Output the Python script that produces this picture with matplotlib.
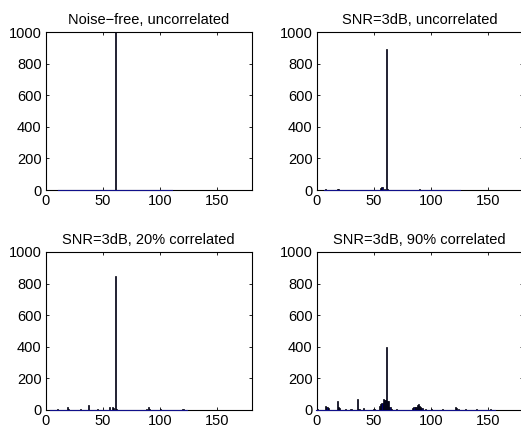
import numpy as np
import matplotlib
matplotlib.use("Agg")
import matplotlib.pyplot as plt

plt.rcParams["font.family"] = ["Liberation Sans", "DejaVu Sans"]
plt.rcParams["font.size"] = 10.5

# Histogram data (bin -> count)
titles = [
    "Noise\u2212free, uncorrelated",
    "SNR=3dB, uncorrelated",
    "SNR=3dB, 20% correlated",
    "SNR=3dB, 90% correlated",
]

# span of bins that carry (possibly empty) bars
spans = [(11, 110), (7, 125), (4, 123), (0, 155)]

bins_a = [61]
counts_a = [1000]

bins_b = [8, 18, 19, 30, 45, 56, 57, 59, 61, 62, 90, 100, 112]
counts_b = [5, 8, 4, 2, 2, 10, 20, 8, 895, 6, 6, 3, 2]

bins_c = [10, 19, 20, 30, 37, 45, 56, 58, 59, 61, 62, 88, 90, 91, 100, 120]
counts_c = [3, 15, 5, 3, 30, 4, 16, 15, 10, 845, 8, 6, 20, 6, 3, 3]

bins_d = [0, 1, 8, 9, 10, 18, 19, 20, 25, 30, 36, 37, 41, 50, 55, 56, 57, 58,
          59, 60, 61, 62, 63, 64, 65, 70, 84, 85, 86, 87, 88, 89, 90, 91, 92,
          95, 100, 110, 121, 122, 124, 130, 140, 152]
counts_d = [15, 8, 22, 20, 10, 58, 15, 10, 5, 5, 68, 8, 12, 5, 25, 38, 40, 68,
            60, 65, 400, 58, 55, 20, 8, 4, 12, 18, 20, 15, 30, 35, 25, 15, 10,
            6, 4, 3, 15, 14, 6, 3, 3, 5]

panels = [(bins_a, counts_a), (bins_b, counts_b), (bins_c, counts_c), (bins_d, counts_d)]

navy = "#00006e"

fig = plt.figure(figsize=(5.21, 4.30), dpi=100)
lefts = [0.088, 0.608]
bottoms = [0.558, 0.047]

for i, ((bins, counts), title, span) in enumerate(zip(panels, titles, spans)):
    ax = fig.add_axes([lefts[i % 2], bottoms[i // 2], 0.395, 0.367])
    centers = np.arange(span[0], span[1] + 1)
    heights = np.zeros(len(centers))
    for b, c in zip(bins, counts):
        heights[b - span[0]] = c
    # empty bins show up as a thin dark-blue line along the baseline
    ax.plot([centers[0] - 0.5, centers[-1] + 0.5], [0, 0], color="#10108a",
            lw=0.8, zorder=3, clip_on=False)
    ax.bar(centers, heights, width=1.0, color=navy, edgecolor="black",
           linewidth=0.5, zorder=3)
    ax.set_xlim(0, 180)
    ax.set_ylim(0, 1000)
    ax.set_xticks([0, 50, 100, 150])
    ax.set_yticks([0, 200, 400, 600, 800, 1000])
    ax.tick_params(direction="in", length=2.5, width=0.6, top=True, right=True,
                   pad=3)
    for s in ax.spines.values():
        s.set_linewidth(0.8)
    ax.set_title(title, fontsize=10.5, pad=6)

fig.savefig("out.png", dpi=100)
